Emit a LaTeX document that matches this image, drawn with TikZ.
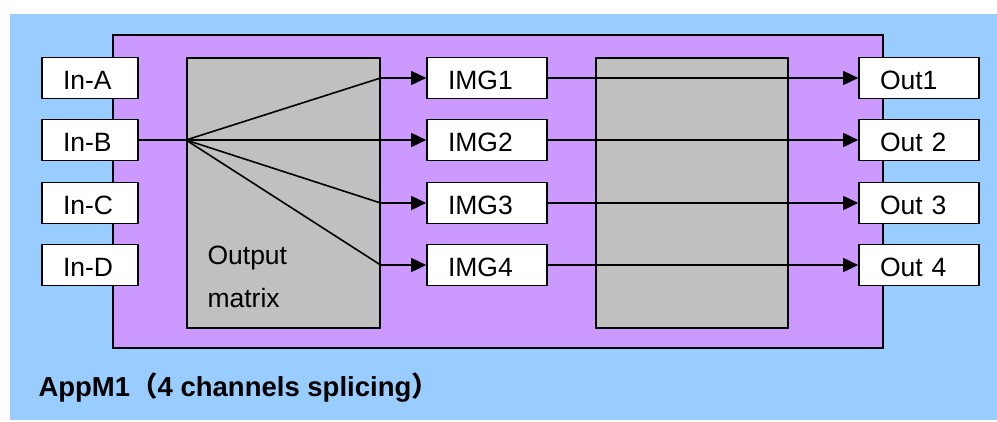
\documentclass[tikz,border=0pt]{standalone}
\usepackage{fontspec}
\setmainfont{Liberation Sans}
\newfontfamily\cjkfont{Noto Sans CJK SC}
\usetikzlibrary{arrows.meta}

\definecolor{bgBlue}{HTML}{99CCFF}
\definecolor{boardPurple}{HTML}{CC99FF}
\definecolor{matrixGray}{HTML}{C0C0C0}

\def \lineWidth {1.6pt}
\def \labelFont {\fontsize{26.5}{43}\selectfont}

\tikzset{
  port/.style={draw, fill=white, line width=\lineWidth, minimum height=41pt, inner xsep=21pt, inner ysep=0pt, text height=23pt, text depth=0pt, align=left, font=\labelFont},
  inport/.style={port, text width=54pt},
  wideport/.style={port, text width=78pt},
  panel/.style={draw, fill=matrixGray, line width=\lineWidth, inner sep=0pt, anchor=north west},
  wire/.style={line width=\lineWidth},
  feed/.style={wire, -{Triangle[length=15pt, width=14pt]}},
}

\begin{document}
\begin{tikzpicture}[x=1pt, y=-1pt]
  \useasboundingbox (0,0) rectangle (997,421);
  \fill[bgBlue] (10,14) rectangle (997,420);
  \draw[fill=boardPurple, line width=\lineWidth] (113,35) rectangle (883,348);

  \node[panel, minimum width=193pt, minimum height=270pt] (mtx) at (186,57) {};
  \node[panel, minimum width=192pt, minimum height=270pt] (splice) at (595,57) {};

  \node[inport] (inA) at (90,78) {In-A};
  \node[inport] (inB) at (90,140) {In-B};
  \node[inport] (inC) at (90,203) {In-C};
  \node[inport] (inD) at (90,265) {In-D};

  \node[wideport] (img1) at (487,78) {IMG1};
  \node[wideport] (img2) at (487,140) {IMG2};
  \node[wideport] (img3) at (487,203) {IMG3};
  \node[wideport] (img4) at (487,265) {IMG4};

  \node[wideport] (out1) at (919,78) {Out1};
  \node[wideport] (out2) at (919,140) {Out 2};
  \node[wideport] (out3) at (919,203) {Out 3};
  \node[wideport] (out4) at (919,265) {Out 4};

  \node[anchor=base west, align=left, font=\labelFont] (mtxText) at (204,307) {Output\\matrix};
  \node[anchor=base west, font=\bfseries\fontsize{27.5}{30}\selectfont] (title) at (35,396) {AppM1{\cjkfont （}4 channels splicing{\cjkfont ）}};

  \coordinate (fan) at (mtx.west |- inB.east);
  \coordinate (tap1) at (mtx.east |- img1.west);
  \coordinate (tap2) at (mtx.east |- img2.west);
  \coordinate (tap3) at (mtx.east |- img3.west);
  \coordinate (tap4) at (mtx.east |- img4.west);

  \draw[wire] (inB.east) -- (fan);
  \draw[feed] (fan) -- (tap1) -- (img1.west);
  \draw[feed] (fan) -- (tap2) -- (img2.west);
  \draw[feed] (fan) -- (tap3) -- (img3.west);
  \draw[feed] (fan) -- (tap4) -- (img4.west);

  \draw[feed] (img1.east) -- (out1.west);
  \draw[feed] (img2.east) -- (out2.west);
  \draw[feed] (img3.east) -- (out3.west);
  \draw[feed] (img4.east) -- (out4.west);
\end{tikzpicture}
\end{document}
